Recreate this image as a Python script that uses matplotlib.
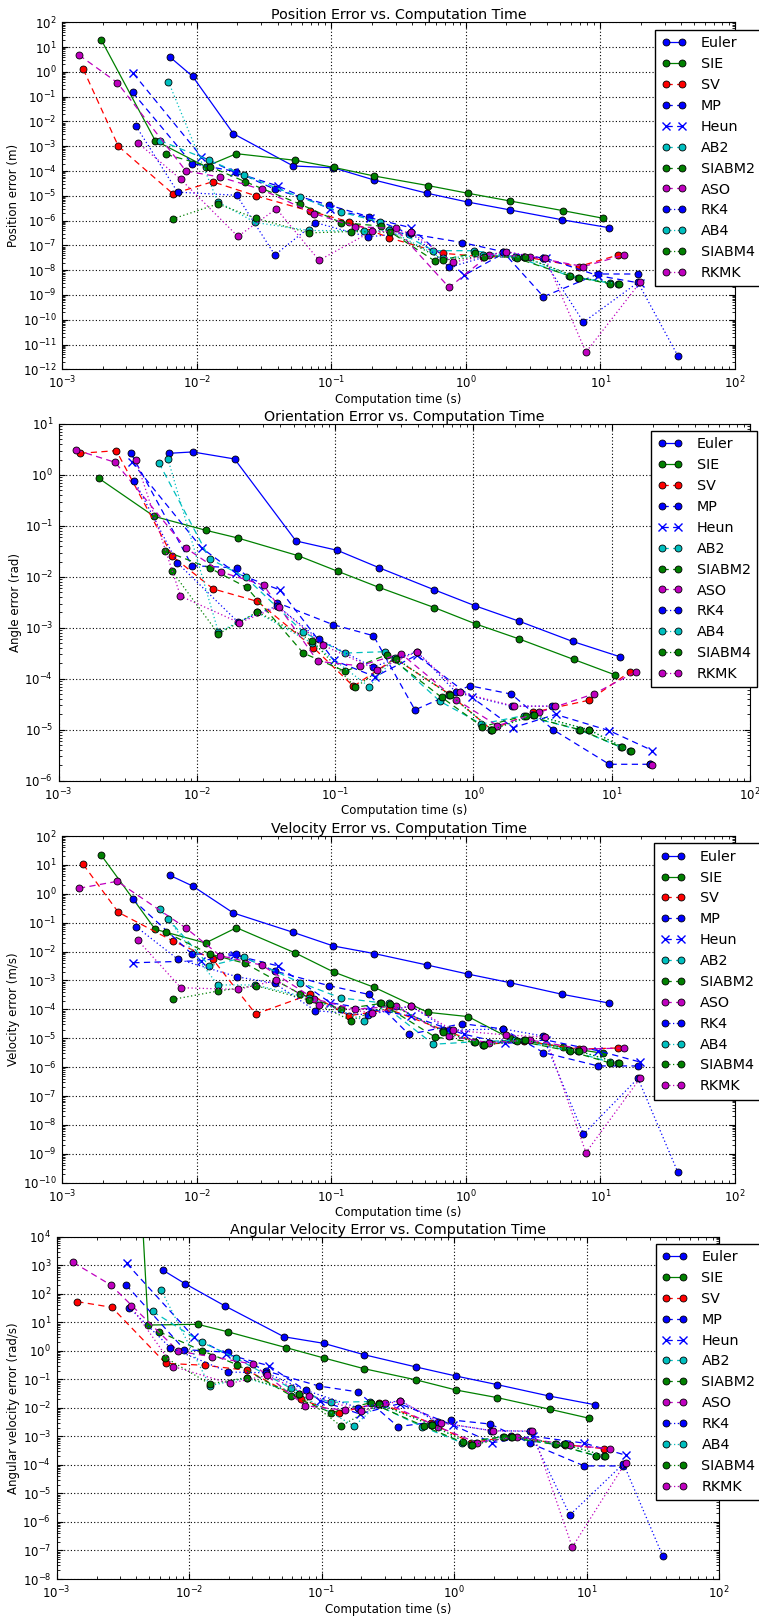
import numpy as np
import matplotlib
matplotlib.use('Agg')
import matplotlib.pyplot as plt
from matplotlib.ticker import LogLocator, NullFormatter

# computation times (s) for each integrator, shared by all four error plots
t_euler = [0.0063, 0.0093, 0.0187, 0.052, 0.1035, 0.209, 0.518, 1.03, 2.12, 5.22, 11.5]
t_sie = [0.00195, 0.0049, 0.0116, 0.0197, 0.054, 0.104, 0.208, 0.52, 1.04, 2.12, 5.3, 10.5]
t_sv = [0.00143, 0.00261, 0.00665, 0.0131, 0.0274, 0.0695, 0.1355, 0.27, 0.67, 1.35, 2.7, 6.87, 13.6]
t_mp = [0.00333, 0.0092, 0.0196, 0.0382, 0.096, 0.189, 0.377, 0.94, 1.88, 3.77, 9.6, 19.0]
t_heun = [0.00337, 0.0108, 0.0190, 0.0400, 0.098, 0.194, 0.388, 0.975, 1.94, 3.93, 9.6, 19.7]
t_ab2 = [0.0053, 0.0124, 0.0225, 0.0588, 0.117, 0.23, 0.574, 1.14, 2.33, 5.8, 11.7]
t_siabm2 = [0.0059, 0.0125, 0.0229, 0.0587, 0.118, 0.235, 0.59, 1.16, 2.39, 5.9, 11.8]
t_aso = [0.00133, 0.00256, 0.0083, 0.0149, 0.0303, 0.0748, 0.150, 0.30, 0.75, 1.49, 3.0, 7.48, 15.0]
t_rk4 = [0.00353, 0.0072, 0.0198, 0.038, 0.076, 0.187, 0.39, 0.75, 1.9, 3.72, 7.48, 19.0, 37.6]
t_ab4 = [0.00615, 0.0143, 0.0272, 0.068, 0.176, 0.27, 0.67, 1.35, 2.7, 6.8, 13.6]
t_siabm4 = [0.0066, 0.0143, 0.0274, 0.068, 0.14, 0.273, 0.68, 1.36, 2.73, 6.87, 13.7]
t_rkmk = [0.00363, 0.0076, 0.0202, 0.039, 0.081, 0.2, 0.39, 0.8, 1.97, 3.9, 7.8, 19.7]

# position error (m)
pos_euler = [4.0, 0.66, 3.2e-3, 1.6e-4, 1.35e-4, 4.3e-5, 1.26e-5, 5.6e-6, 2.7e-6, 1.07e-6, 5.2e-7]
pos_sie = [19.4, 1.7e-3, 1.5e-4, 5.0e-4, 2.7e-4, 1.4e-4, 6.3e-5, 2.6e-5, 1.26e-5, 6.2e-6, 2.5e-6, 1.24e-6]
pos_sv = [1.3, 1.0e-3, 1.2e-5, 3.7e-5, 1.0e-5, 2.4e-6, 9e-7, 2e-7, 4.8e-8, 3.5e-8, 3.5e-8, 1.4e-8, 4.1e-8]
pos_mp = [0.15, 2.0e-4, 9.5e-5, 1.8e-5, 4.2e-6, 1.45e-6, 3e-7, 1.3e-7, 5.6e-8, 8.5e-10, 7e-9, 7e-9]
pos_heun = [0.87, 3.8e-4, 9.0e-5, 2.5e-5, 2.9e-6, 1.3e-6, 5.2e-7, 6.3e-9, 5e-8, 3e-8, 6e-9, 3e-9]
pos_ab2 = [1.7e-3, 2.7e-4, 6.7e-5, 8.7e-6, 2.2e-6, 9e-7, 6.1e-8, 6.1e-8, 3.5e-8, 6e-9, 3e-9]
pos_siabm2 = [4.7e-4, 1.5e-4, 3.7e-5, 4.6e-6, 8.3e-7, 6e-7, 2.3e-8, 4.8e-8, 3e-8, 5.9e-9, 2.8e-9]
pos_aso = [4.8, 0.37, 1e-4, 5.7e-5, 1.8e-5, 1.9e-6, 5.7e-7, 4.8e-7, 2e-9, 4.1e-8, 3.5e-8, 1.4e-8, 4.1e-8]
pos_rk4 = [6.5e-3, 1.4e-5, 1.05e-5, 4.1e-8, 8.3e-7, 2.2e-7, 3.3e-7, 1.3e-8, 5.6e-8, 3e-8, 8e-11, 3.2e-9, 3.5e-12]
pos_ab4 = [0.40, 5.8e-6, 8.4e-7, 4e-7, 3.8e-7, 4e-7, 3e-8, 4e-8, 3.3e-8, 5e-9, 2.8e-9]
pos_siabm4 = [1.16e-6, 4.7e-6, 1.24e-6, 3.2e-7, 3.6e-7, 3.4e-7, 2.6e-8, 3.5e-8, 3.3e-8, 5e-9, 2.8e-9]
pos_rkmk = [1.4e-3, 4.6e-5, 2.3e-7, 3e-6, 2.5e-8, 3.7e-7, 3.4e-7, 2.1e-8, 5.6e-8, 3e-8, 4.9e-12, 3.2e-9]

# orientation error (rad), nan where the run gave no value
ori_euler = [2.66, 2.83, 2.06, 0.0507, 0.0332, 0.015, 5.6e-3, 2.7e-3, 1.36e-3, 5.4e-4, 2.7e-4]
ori_sie = [0.86, 0.154, 0.082, 0.058, 0.026, 0.0129, 6.2e-3, 2.5e-3, 1.19e-3, 6.1e-4, 2.4e-4, 1.2e-4]
ori_sv = [2.66, 3.0, 0.0253, 5.8e-3, 3.3e-3, 4.1e-4, 7.1e-5, 2.5e-4, 5e-5, 1.0e-5, 2.2e-5, 3.8e-5, 1.38e-4]
ori_mp = [2.66, 0.0166, 0.015, 3.1e-3, 1.16e-3, 7e-4, 2.45e-5, 7.3e-5, 5e-5, 1e-5, 2.1e-6, 2.1e-6]
ori_heun = [1.82, 0.037, 0.012, 5.5e-3, 2.3e-4, 1.1e-4, 2.9e-4, 4.3e-5, 1.1e-5, 2e-5, 9.6e-6, 3.9e-6]
ori_ab2 = [1.74, 0.0224, 9.8e-3, 8.2e-4, 3.2e-4, 3.4e-4, 3.6e-5, 1.3e-5, 1.9e-5, 1e-5, 4.5e-6]
ori_siabm2 = [0.032, 0.0147, 6.2e-3, 3.2e-4, 1.4e-4, 2.95e-4, 4.3e-5, 1.15e-5, 1.9e-5, 1e-5, 4.5e-6]
ori_aso = [3.1, 1.77, 0.037, 0.0125, 6.9e-3, 2.2e-4, 1.8e-4, 3.1e-4, 3.9e-5, 1.2e-5, 2.2e-5, 5.1e-5, 1.38e-4]
ori_rk4 = [0.77, 0.019, 1.3e-3, 2.7e-3, 6e-4, 1.7e-4, 3.4e-4, 5.4e-5, 2.9e-5, 2.9e-5, np.nan, 2.1e-6, np.nan]
ori_ab4 = [2.1, 8.2e-4, 2e-3, 5e-4, 7e-5, 2.6e-4, 4.8e-5, 1e-5, 1.95e-5, 1e-5, 3.8e-6]
ori_siabm4 = [0.0129, 7.6e-4, 2.05e-3, 5.6e-4, 6.8e-5, 2.5e-4, 4.8e-5, 1e-5, 1.95e-5, 1e-5, 3.8e-6]
ori_rkmk = [1.94, 4.2e-3, 1.26e-3, 2.6e-3, 4.6e-4, 1.5e-4, 3.4e-4, 5.4e-5, 2.9e-5, 2.9e-5, np.nan, 2.0e-6]

# velocity error (m/s)
vel_euler = [4.35, 1.86, 0.216, 0.0463, 0.0156, 8.5e-3, 3.4e-3, 1.67e-3, 8.4e-4, 3.3e-4, 1.66e-4]
vel_sie = [21.4, 0.059, 0.0198, 0.067, 8.9e-3, 1.96e-3, 5.8e-4, 7.9e-5, 5.6e-5, 1.0e-5, 4.9e-6, 3.0e-6]
vel_sv = [10.4, 0.228, 0.0232, 5.5e-3, 6.9e-5, 3.3e-4, 6.0e-5, 1.0e-4, 2.0e-5, 6e-6, 8e-6, 4.2e-6, 4.6e-6]
vel_mp = [0.64, 8.2e-3, 8.2e-3, 2.1e-3, 6.6e-4, 3.3e-4, 1.36e-5, 3.2e-5, 2.1e-5, 3.2e-6, 1.1e-6, 1.1e-6]
vel_heun = [4.1e-3, 4.8e-3, 7.6e-3, 3.2e-3, 1.7e-4, 1.0e-4, 6e-5, 1.36e-5, 6.6e-6, 8.7e-6, 3.7e-6, 1.5e-6]
vel_ab2 = [0.29, 3.2e-3, 6.3e-3, 8.4e-4, 2.5e-4, 1.7e-4, 6.2e-6, 7.5e-6, 8.5e-6, 3.8e-6, 1.5e-6]
vel_siabm2 = [0.046, 8.2e-3, 3.9e-3, 3.4e-4, 1.0e-4, 1.6e-4, 1.1e-5, 7.2e-6, 8.3e-6, 3.6e-6, 1.4e-6]
vel_aso = [1.55, 2.7, 0.065, 7.2e-3, 3.4e-3, 2.3e-4, 1.0e-4, 1.3e-4, 1.2e-5, 7e-6, 8.7e-6, 4.2e-6, 4.6e-6]
vel_rk4 = [0.073, 5.5e-3, 1.35e-3, 7.9e-4, 9e-5, 6.4e-5, 1.3e-4, 1.9e-5, 2.1e-5, 1.2e-5, 4.8e-9, 4.1e-7, 2.3e-10]
vel_ab4 = [0.13, 7e-4, 7e-4, 2.5e-4, 4.1e-5, 1.6e-4, 1.8e-5, 6e-6, 8.7e-6, 3.7e-6, 1.4e-6]
vel_siabm4 = [2.2e-4, 4.3e-4, 6.6e-4, 2.1e-4, 4.1e-5, 1.5e-4, 1.7e-5, 5.7e-6, 8.7e-6, 3.6e-6, 1.4e-6]
vel_rkmk = [0.025, 5.6e-4, 4.9e-4, 1.0e-3, 1.45e-4, 7.5e-5, 1.3e-4, 1.9e-5, 1.3e-5, 1.1e-5, 1.1e-9, 4.1e-7]

# angular velocity error (rad/s); SIE blows up at its largest step
angv_euler = [681, 226, 37, 3.1, 1.83, 0.73, 0.27, 0.131, 0.065, 0.026, 0.0129]
angv_sie = [1e35, 8.0, 8.5, 4.6, 1.29, 0.56, 0.237, 0.095, 0.042, 0.0228, 8.9e-3, 4.3e-3]
angv_sv = [52.8, 33.4, 0.364, 0.31, 0.207, 0.02, 6.6e-3, 0.015, 2.9e-3, 6e-4, 1e-3, 5.1e-4, 3.7e-4]
angv_mp = [208, 1.1, 0.89, 0.196, 0.058, 0.036, 2.2e-3, 3.8e-3, 2.7e-3, 5.7e-4, 9.2e-5, 9.2e-5]
angv_heun = [1165, 3.1, 0.77, 0.30, 0.0179, 6.1e-3, 0.014, 2.5e-3, 6e-4, 1e-3, 5.8e-4, 2.2e-4]
angv_ab2 = [24, 2.0, 0.56, 0.048, 0.0156, 0.0166, 2.2e-3, 6e-4, 9.8e-4, 5.2e-4, 2.1e-4]
angv_siabm2 = [4.7, 1.0, 0.33, 0.027, 6.8e-3, 0.0152, 2.3e-3, 6.2e-4, 9.8e-4, 5.2e-4, 2.1e-4]
angv_aso = [1262, 203, 0.96, 0.62, 0.34, 0.0119, 8.2e-3, 0.0152, 2.2e-3, 6e-4, 9.8e-4, 4.9e-4, 3.7e-4]
angv_rk4 = [32.5, 1.29, 0.18, 0.17, 0.041, 0.0102, 0.0179, 3.1e-3, 1.6e-3, 1.5e-3, 1.75e-6, 1.1e-4, 6.4e-8]
angv_ab4 = [135, 0.06, 0.11, 0.03, 2.3e-3, 0.014, 2.5e-3, 5e-4, 9.8e-4, 5.2e-4, 2.1e-4]
angv_siabm4 = [0.58, 0.069, 0.115, 0.031, 2.3e-3, 0.0136, 2.5e-3, 5e-4, 9.8e-4, 5.2e-4, 2.1e-4]
angv_rkmk = [37, 0.28, 0.072, 0.138, 0.027, 7.8e-3, 0.0179, 3e-3, 1.55e-3, 1.55e-3, 1.3e-7, 1.2e-4]

names = ['Euler', 'SIE', 'SV', 'MP', 'Heun', 'AB2', 'SIABM2', 'ASO', 'RK4', 'AB4', 'SIABM4', 'RKMK']
times = [t_euler, t_sie, t_sv, t_mp, t_heun, t_ab2, t_siabm2, t_aso, t_rk4, t_ab4, t_siabm4, t_rkmk]
pos_err = [pos_euler, pos_sie, pos_sv, pos_mp, pos_heun, pos_ab2, pos_siabm2, pos_aso,
           pos_rk4, pos_ab4, pos_siabm4, pos_rkmk]
ori_err = [ori_euler, ori_sie, ori_sv, ori_mp, ori_heun, ori_ab2, ori_siabm2, ori_aso,
           ori_rk4, ori_ab4, ori_siabm4, ori_rkmk]
vel_err = [vel_euler, vel_sie, vel_sv, vel_mp, vel_heun, vel_ab2, vel_siabm2, vel_aso,
           vel_rk4, vel_ab4, vel_siabm4, vel_rkmk]
angv_err = [angv_euler, angv_sie, angv_sv, angv_mp, angv_heun, angv_ab2, angv_siabm2, angv_aso,
            angv_rk4, angv_ab4, angv_siabm4, angv_rkmk]

# old-style matplotlib colour letters
B = (0, 0, 1)
G = (0, 0.5, 0)
R = (1, 0, 0)
C = (0, 0.75, 0.75)
M = (0.75, 0, 0.75)
DASH = (0, (5, 3.5))
DOT = (0, (1, 2))
styles = [(B, '-', 'o'), (G, '-', 'o'), (R, DASH, 'o'), (B, DASH, 'o'), (B, DASH, 'x'),
          (C, DASH, 'o'), (G, DASH, 'o'), (M, DASH, 'o'), (B, DOT, 'o'), (C, DOT, 'o'),
          (G, DOT, 'o'), (M, DOT, 'o')]

plt.rcParams['font.family'] = 'DejaVu Sans'
plt.rcParams['xtick.direction'] = 'in'
plt.rcParams['ytick.direction'] = 'in'
plt.rcParams['xtick.top'] = True
plt.rcParams['ytick.right'] = True
plt.rcParams['xtick.major.size'] = 4
plt.rcParams['ytick.major.size'] = 4
plt.rcParams['xtick.minor.size'] = 2
plt.rcParams['ytick.minor.size'] = 2
plt.rcParams['xtick.major.pad'] = 4
plt.rcParams['ytick.major.pad'] = 4

W, H = 759, 1617
fig = plt.figure(figsize=(W / 100, H / 100), dpi=100)

# (title, y label, y limits, errors, [left, right, top, bottom] px, legend corner px)
panels = [
    ('Position Error vs. Computation Time', 'Position error (m)', (1e-12, 1e2), pos_err,
     [62.3, 735, 22.3, 369.3], (655, 30)),
    ('Orientation Error vs. Computation Time', 'Angle error (rad)', (1e-6, 1e1), ori_err,
     [58.7, 750, 424, 780.7], (651, 431)),
    ('Velocity Error vs. Computation Time', 'Velocity error (m/s)', (1e-10, 1e2), vel_err,
     [62.3, 735, 836, 1182.7], (654.3, 843.3)),
    ('Angular Velocity Error vs. Computation Time', 'Angular velocity error (rad/s)', (1e-8, 1e4), angv_err,
     [56.7, 719, 1236.7, 1579], (655.7, 1243.7)),
]

for title, ylabel, ylim, errs, box, leg in panels:
    l, r, t, b = box
    ax = fig.add_axes([l / W, 1 - b / H, (r - l) / W, (b - t) / H])
    for name, tt, ee, (col, ls, mk) in zip(names, times, errs, styles):
        if mk == 'x':
            ax.plot(tt, ee, color=col, linestyle=ls, marker=mk, ms=6, mec=col, mew=1.0,
                    lw=0.9, label=name)
        else:
            ax.plot(tt, ee, color=col, linestyle=ls, marker=mk, ms=5, mfc=col, mec='k',
                    mew=0.6, lw=0.9, label=name)
    ax.set_xscale('log')
    ax.set_yscale('log')
    ax.set_xlim(1e-3, 1e2)
    ax.set_ylim(*ylim)
    lo, hi = int(np.log10(ylim[0])), int(np.log10(ylim[1]))
    ax.set_yticks(10.0 ** np.arange(lo, hi + 1))
    ax.yaxis.set_minor_locator(LogLocator(base=10, subs=np.arange(2, 10), numticks=100))
    ax.yaxis.set_minor_formatter(NullFormatter())
    ax.xaxis.set_minor_locator(LogLocator(base=10, subs=np.arange(2, 10), numticks=100))
    ax.xaxis.set_minor_formatter(NullFormatter())
    ax.tick_params(labelsize=8.5)
    ax.grid(True, which='major', color='k', linestyle=(0, (1, 2)), linewidth=0.8)
    ax.set_title(title, fontsize=10.3, pad=2)
    ax.set_xlabel('Computation time (s)', fontsize=8.5, labelpad=1)
    ax.set_ylabel(ylabel, fontsize=8.5, labelpad=2)
    lg = ax.legend(loc='upper left', bbox_to_anchor=(leg[0] / W, 1 - leg[1] / H),
                   bbox_transform=fig.transFigure, borderaxespad=0, numpoints=2,
                   fontsize=10.3, fancybox=False, framealpha=1, edgecolor='k',
                   handlelength=1.75, handletextpad=1.0, labelspacing=0.48, borderpad=0.45)
    lg.get_frame().set_linewidth(1.0)

fig.savefig('out.png', dpi=100, facecolor='white')
